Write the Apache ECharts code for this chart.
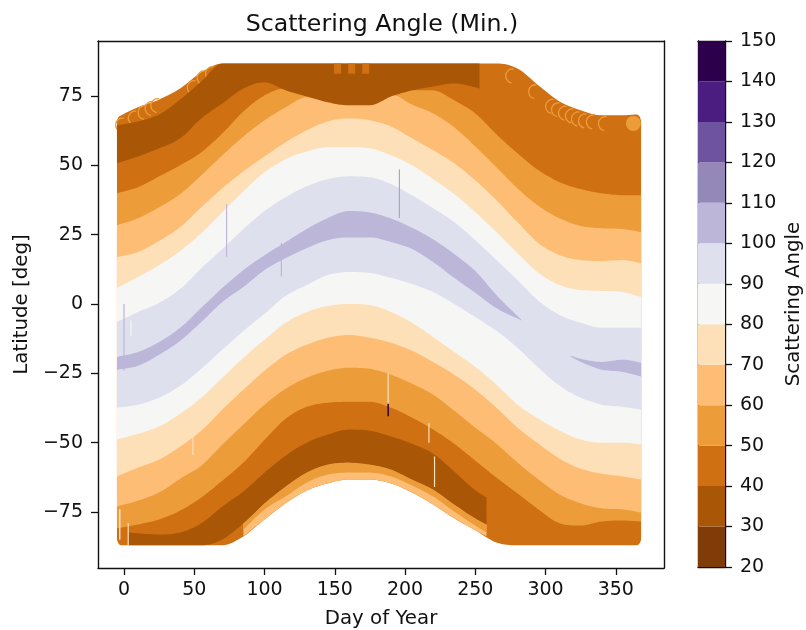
<!DOCTYPE html>
<html><head><meta charset="utf-8">
<style>html,body{margin:0;padding:0;background:#fff}#c{width:806px;height:630px}</style>
<script src="https://cdn.jsdelivr.net/npm/echarts@6/dist/echarts.min.js"></script>
</head><body><div id="c"></div>
<script>
// colour bins
const binEdges=[20,30,40,50,60,70,80,90,100,110,120,130,140,150];
const binColors=['#7f3b08','#a95707','#cf7012','#ec9c38','#fdbd74','#fde0b8','#f6f6f4','#dee0ee','#bcb7d9','#9488b9','#6e54a0','#4c1d81','#2d004b'];
const xTicks=[0,50,100,150,200,250,300,350];
const yTicks=[-75,-50,-25,0,25,50,75];

// data envelope
const edgeDays=[-5,-4,-2,10,25,40,55,70,85,100,115,130,145,160,175,190,205,220,235,250,265,280,295,310,325,340,355,364,367,368];
const edgeTop=[66.2,67.3,68,70.9,73.7,77.7,83.5,86.7,86.7,86.7,86.7,86.7,86.7,86.7,86.7,86.7,86.7,86.7,86.7,86.7,86.7,84.9,78.8,73,69.8,68,68,68.3,67.5,66];
const edgeBottom=[-85,-86.3,-87,-87,-87,-87,-87,-87,-83.8,-77.7,-71.9,-67.3,-64.7,-63.3,-63.3,-64.7,-68,-72.3,-77.3,-81.6,-86,-87,-87,-87,-87,-87,-87,-87,-86.3,-85];

// band boundaries
const days=[-5,10,25,40,55,70,85,100,115,130,145,160,175,190,205,220,235,250,265,280,295,310,325,340,355,368];
const north50=[39.9,42.1,46,50,54.7,61.5,69.4,75.2,77.7,77.7,77,76.3,76.3,77,77,77,73.4,68.7,61.2,54.3,48.2,43.9,41.4,39.9,39.2,39.2];
const north60=[28.4,30.9,34.9,39.6,46.4,53.6,60.4,66.2,70.9,74.5,74.1,73.4,73.4,75.5,71.9,68.7,63.7,56.8,49.3,41.7,35.3,30.9,28.1,27.3,27,25.9];
const north70=[16.9,18.7,22.7,27.7,34.9,41.7,47.8,53.2,58.3,62.6,65.8,66.9,66.2,64,59.7,55.4,50.7,44.6,37.4,29.5,21.9,17.6,15.8,15.5,15.8,14.7];
const north80=[5.8,9.7,14,19.1,25.5,33.1,40.6,47.5,52.2,55,56.5,56.5,56.1,53.6,50,45,39.6,33.1,25.9,18.3,11.2,6.8,5,4.7,4.3,2.5];
const north90=[-6.5,-2.9,0.4,5.4,12.9,19.8,27,33.5,38.5,42.4,45,46,45.7,43.2,39.2,34.5,29.5,23,15.8,8.6,1.1,-4,-6.8,-8.6,-8.6,-8.6];
const south90=[-37.4,-36.3,-33.8,-29.5,-23.4,-16.5,-9.7,-3.6,2.9,6.8,10.4,11.5,11.2,9.4,7.2,4.3,0,-4.7,-9.7,-15.8,-23,-29.5,-33.8,-36.3,-37.1,-38.1];
const south80=[-48.9,-46.8,-44.2,-39.6,-33.8,-26.6,-19.4,-12.9,-6.8,-2.9,-0.7,0,-0.4,-2.9,-6.8,-11.9,-17.3,-22.7,-29.1,-36.3,-41.4,-45.7,-48.9,-50,-50,-50.7];
const south70=[-62.2,-59,-56.1,-51.4,-45.7,-38.1,-30.9,-24.1,-18.3,-14.7,-12.2,-11.2,-12.2,-14,-16.9,-20.9,-25.5,-30.9,-37.4,-44.6,-50.4,-55.8,-59.4,-61.2,-62.2,-63.3];
const south60=[-73,-70.9,-68,-63,-58.3,-50.7,-43.5,-36.3,-30.6,-26.6,-24.1,-23,-23.4,-25.5,-28.8,-32.7,-38.5,-44.6,-50.4,-57.2,-63.3,-68.7,-71.9,-73.7,-74.1,-75.2];
const south50=[-80.9,-79.5,-77.7,-74.5,-69.8,-63.7,-57.2,-49,-41.4,-37.1,-35.6,-35.3,-35.3,-37.4,-41,-45.3,-50.4,-56.5,-62.6,-68.3,-74.1,-79.1,-79.9,-78.4,-78.1,-78.4];

// 100-110 ridge
const ridgeDays=[-5,10,25,40,55,70,85,100,115,130,145,160,175,190,205,220,235,250,265,283];
const ridgeTop=[-19.1,-17.3,-13.7,-8.6,-1.4,5.8,12.2,17.6,22.3,27,31,33.5,33,30.8,27.5,23.3,18,11.9,3.2,-5.8];
const ridgeBottom=[-23.7,-22.3,-18.3,-13.3,-6.5,0.7,6.1,12.2,16.5,20.1,23,24,24,22.3,19.8,15.1,9.4,4,-1.5,-6];
const patchDays=[318,325,340,355,368];
const patchTop=[-18.7,-19.8,-20.9,-20.1,-21.2];
const patchBottom=[-19,-20.9,-23.7,-24.5,-26.2];

// dark cap in the north
const capDays=[-5,10,25,40,55,70,85,100,115,130,145,160,175,190,205,220,235,250,253];
const capTop=[64.4,65.8,68.3,73.7,80.2,86.7,86.7,86.7,86.7,86.7,86.7,86.7,86.7,86.7,86.7,86.7,86.7,86.7,86.7];
const capBottom=[50.7,53.2,56.1,59.7,66.9,72.3,77.7,79.9,77,74.8,72.7,71.6,71.6,74.8,77,78.4,79.5,78.1,77.7];

// dark belt in the south
const beltDays=[3,10,25,40,55,70,85,100,115,130,145,160,175,190,205,220,235,250,258];
const beltTop=[-82.4,-82.7,-83.1,-82.4,-79.1,-73,-67.6,-60.8,-54.7,-50,-47.1,-45.3,-45.7,-47.8,-50.4,-54,-60.4,-67.2,-69.8];
const beltBottom=[-87,-87,-87,-87,-87,-84.9,-79.1,-71.9,-65.8,-60.8,-57.9,-57.2,-57.9,-59.7,-63.3,-66.9,-72.3,-77.3,-79.5];
const rimDays=[85,100,115,130,145,160,175,190,205,220,235,250,258];
const rimMid=[-81.3,-74.1,-69.4,-64.4,-61.5,-60.8,-60.8,-62.2,-65.5,-69.4,-74.8,-79.9,-82.4];
const rimEdge=[-83.8,-77.7,-71.9,-67.3,-64.7,-63.3,-63.3,-64.7,-68,-72.3,-77.3,-81.6,-83.8];
const beltInner=[-79.1,-71.9,-65.8,-60.8,-57.9,-57.2,-57.9,-59.7,-63.3,-66.9,-72.3,-77.3,-79.5];

// stray columns
const streakDays=[0,5,49,73,73,112,112,188,196,217,221,-3,3];
const streakFrom=[0,-6,-47,36,17,22,-14,-25,48.5,-43,-55,-74,-79];
const streakTo=[-24,-11.5,-54.5,17,8,10,-14,-36,31,-50,-66,-85,-87];
const streakShade=['#bcb7d9','#f6f6f4','#fde0b8','#bcb7d9','#dee0ee','#bcb7d9','#d5d5e8','#fde0b8','#a9a5cc','#fde0b8','#fde0b8','#f6f6f4','#fde0b8'];
const purpleDays=[188];
const purpleFrom=[-36];
const purpleTo=[-40.5];
const blobDays=[152,162,172];
const blobFrom=[86.7,86.7,86.7];
const blobTo=[83,83,83];

// single marks along the rim
const leftRimDays=[-1,8,15,20,24,50,57,63];
const leftRimLats=[64.5,67,69,70.5,71.5,78,81.5,83];
const rightRimDays=[276.6,292.9,305,309.2,314.2,319.1,323.4,328.4,334,342.6];
const rightRimLats=[82.2,76.5,71.2,70,68.8,67.8,66.7,66,65.6,65];
const endDays=[362.5];
const endLats=[65.1];

// draws a curve through the read points the way a smoothed line does
function curve(pts){
  const n=pts.length,out=[],s=[],m=[];
  for(let i=0;i<n-1;i++)s.push((pts[i+1][1]-pts[i][1])/(pts[i+1][0]-pts[i][0]));
  for(let i=0;i<n;i++){
    if(i===0)m.push(s[0]);
    else if(i===n-1)m.push(s[n-2]);
    else if(s[i-1]*s[i]<=0)m.push(0);
    else{const a=(s[i-1]+s[i])/2,l=3*Math.min(Math.abs(s[i-1]),Math.abs(s[i]));m.push(Math.sign(a)*Math.min(Math.abs(a),l));}
  }
  for(let i=0;i<n-1;i++){
    const h=pts[i+1][0]-pts[i][0];
    for(let k=0;k<8;k++){
      const t=k/8,t2=t*t,t3=t2*t;
      out.push([pts[i][0]+t*h,(2*t3-3*t2+1)*pts[i][1]+(t3-2*t2+t)*h*m[i]+(-2*t3+3*t2)*pts[i+1][1]+(t3-t2)*h*m[i+1]]);
    }
  }
  out.push(pts[n-1]);
  return out;
}
function band(days,up,lo,color,z){
  return {type:'custom',coordinateSystem:'cartesian2d',xAxisIndex:0,yAxisIndex:0,silent:true,z:z,clip:true,data:[[days[0],up[0]]],
    renderItem:function(p,api){
      const a=curve(days.map((d,i)=>api.coord([d,up[i]])));
      const b=curve(days.map((d,i)=>api.coord([d,lo[i]])));
      return {type:'polygon',shape:{points:a.concat(b.reverse())},style:{fill:color}};
    }};
}
function arcs(d,l,stroke,z){
  return {type:'custom',coordinateSystem:'cartesian2d',xAxisIndex:0,yAxisIndex:0,silent:true,z:z,data:d.map((v,i)=>[v,l[i]]),
    renderItem:function(p,api){
      const c=api.coord([api.value(0),api.value(1)]);
      return {type:'arc',shape:{cx:c[0],cy:c[1],r:7,startAngle:Math.PI*0.55,endAngle:Math.PI*1.55},style:{stroke:stroke,lineWidth:1.3,fill:null}};
    }};
}
function sticks(d,a,b,colors,w,z){
  return {type:'custom',coordinateSystem:'cartesian2d',xAxisIndex:0,yAxisIndex:0,silent:true,z:z,data:d.map((v,i)=>[v,a[i],b[i]]),
    renderItem:function(p,api){
      const s=api.coord([api.value(0),api.value(1)]),e=api.coord([api.value(0),api.value(2)]);
      const c=Array.isArray(colors)?colors[p.dataIndex]:colors;
      return {type:'line',shape:{x1:s[0],y1:s[1],x2:e[0],y2:e[1]},style:{stroke:c,lineWidth:w}};
    }};
}
const C=binColors, ink='#111';
const series=[
  band(edgeDays,edgeTop,edgeBottom,C[2],2),
  arcs(leftRimDays,leftRimLats,C[3],3),
  band(days,north50,south50,C[3],4),
  band(days,north60,south60,C[4],5),
  band(days,north70,south70,C[5],6),
  band(days,north80,south80,C[6],7),
  band(days,north90,south90,C[7],8),
  band(ridgeDays,ridgeTop,ridgeBottom,C[8],9),
  band(patchDays,patchTop,patchBottom,C[8],9),
  band(rimDays,beltInner,rimEdge,C[4],10),
  band(rimDays,beltInner,rimMid,C[3],11),
  band(beltDays,beltTop,beltBottom,C[1],12),
  band(capDays,capTop,capBottom,C[1],12),
  sticks(blobDays,blobFrom,blobTo,C[2],7,13),
  arcs(rightRimDays,rightRimLats,C[3],13),
  {type:'scatter',xAxisIndex:0,yAxisIndex:0,silent:true,z:13,symbolSize:15,data:endDays.map((v,i)=>[v,endLats[i]]),itemStyle:{color:C[3],opacity:1}},
  sticks(streakDays,streakFrom,streakTo,streakShade,1.2,14),
  sticks(purpleDays,purpleFrom,purpleTo,C[12],1.5,15)
];
binColors.forEach((col,i)=>{
  series.push({type:'bar',xAxisIndex:2,yAxisIndex:2,stack:'cb',silent:true,barWidth:'100%',z:2,
    data:[i===0?binEdges[1]:binEdges[i+1]-binEdges[i]],itemStyle:{color:col}});
});
const line={show:true,onZero:false,lineStyle:{color:ink,width:1.4}};
const tick={show:true,length:7,lineStyle:{color:ink,width:1.3}};
const minus=v=>String(v).replace('-','\u2212');
const font='"DejaVu Sans"';
const option={
  animation:false,backgroundColor:'#fff',
  title:{text:'Scattering Angle (Min.)',left:377,top:8,textAlign:'center',textStyle:{fontFamily:font,fontSize:23.7,fontWeight:'normal',color:ink}},
  grid:[{left:98,right:142,top:41,bottom:62,show:false,outerBoundsMode:'none'},{left:698,width:27,top:41,height:526,show:false,outerBoundsMode:'none'}],
  xAxis:[
    {type:'value',gridIndex:0,min:-18.5,max:384.3,name:'Day of Year',nameLocation:'middle',nameGap:41,
     nameTextStyle:{fontFamily:font,fontSize:19.8,color:ink},axisLine:line,splitLine:{show:false},
     axisTick:Object.assign({customValues:xTicks},tick),
     axisLabel:{customValues:xTicks,fontFamily:font,fontSize:19,color:ink,margin:13,formatter:minus}},
    {type:'value',gridIndex:0,min:-18.5,max:384.3,position:'top',axisLine:line,axisTick:{show:false},axisLabel:{show:false},splitLine:{show:false}},
    {type:'category',gridIndex:1,data:['bins'],axisLine:line,axisTick:{show:false},axisLabel:{show:false}},
    {type:'category',gridIndex:1,position:'top',data:['bins'],axisLine:line,axisTick:{show:false},axisLabel:{show:false}}
  ],
  yAxis:[
    {type:'value',gridIndex:0,min:-95.2,max:94.8,name:'Latitude [deg]',nameLocation:'middle',nameGap:62,
     nameTextStyle:{fontFamily:font,fontSize:19.8,color:ink},axisLine:line,splitLine:{show:false},
     axisTick:Object.assign({customValues:yTicks},tick),
     axisLabel:{customValues:yTicks,fontFamily:font,fontSize:19,color:ink,margin:15,formatter:minus}},
    {type:'value',gridIndex:0,min:-95.2,max:94.8,position:'right',axisLine:line,axisTick:{show:false},axisLabel:{show:false},splitLine:{show:false}},
    {type:'value',gridIndex:1,min:binEdges[0],max:binEdges[binEdges.length-1],interval:10,position:'right',name:'Scattering Angle',nameLocation:'middle',nameGap:59,nameRotate:90,
     nameTextStyle:{fontFamily:font,fontSize:19.8,color:ink},axisLine:line,splitLine:{show:false},axisTick:tick,
     axisLabel:{fontFamily:font,fontSize:19,color:ink,margin:15}},
    {type:'value',gridIndex:1,min:20,max:150,position:'left',axisLine:line,axisTick:{show:false},axisLabel:{show:false},splitLine:{show:false}}
  ],
  series:series
};
echarts.init(document.getElementById('c'),null,{renderer:'canvas'}).setOption(option);
</script></body></html>
